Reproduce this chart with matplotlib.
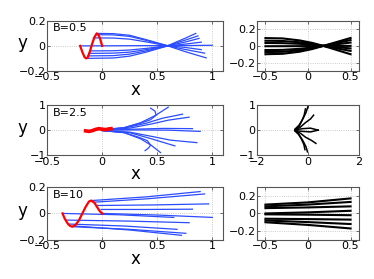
import numpy as np
import matplotlib.pyplot as plt

# ---- panel data ----
labels = ['B=0.5', 'B=2.5', 'B=10']

# B=0.5, left: red wave and blue filaments
red1_x = [-0.20, -0.18, -0.16, -0.145, -0.13, -0.11, -0.09, -0.07, -0.05, -0.035, -0.02, -0.01, 0.0]
red1_y = [0.0, -0.05, -0.09, -0.10, -0.09, -0.04, 0.02, 0.07, 0.10, 0.09, 0.06, 0.03, 0.0]
blue1 = [
    ([-0.05, 0.10, 0.25, 0.40, 0.58, 0.75, 0.945], [0.100, 0.098, 0.085, 0.050, 0.005, -0.045, -0.096]),
    ([-0.06, 0.10, 0.25, 0.40, 0.58, 0.75, 0.93], [0.090, 0.088, 0.076, 0.044, 0.004, -0.028, -0.058]),
    ([-0.08, 0.10, 0.25, 0.40, 0.58, 0.75, 0.90], [0.064, 0.063, 0.054, 0.032, 0.003, -0.012, -0.030]),
    ([-0.20, 0.10, 0.40, 0.58, 0.80, 1.00], [0.000, 0.001, 0.002, 0.002, 0.003, 0.005]),
    ([-0.11, 0.10, 0.25, 0.40, 0.58, 0.75, 0.90], [-0.040, -0.039, -0.033, -0.020, -0.001, 0.014, 0.030]),
    ([-0.12, 0.10, 0.25, 0.40, 0.58, 0.75, 0.88], [-0.060, -0.058, -0.050, -0.030, -0.002, 0.030, 0.060]),
    ([-0.13, 0.10, 0.25, 0.40, 0.58, 0.75, 0.87], [-0.080, -0.078, -0.066, -0.040, -0.003, 0.045, 0.080]),
    ([-0.145, 0.10, 0.25, 0.40, 0.58, 0.75, 0.85], [-0.100, -0.097, -0.082, -0.050, -0.004, 0.060, 0.100]),
]

# B=2.5, left
red2_x = [-0.15, -0.12, -0.09, -0.06, -0.03, 0.0, 0.03, 0.06, 0.08]
red2_y = [-0.03, -0.05, -0.02, 0.03, 0.06, 0.04, 0.02, 0.05, 0.06]
blue2 = [
    ([0.00, 0.20, 0.35, 0.48, 0.60], [0.02, 0.10, 0.30, 0.58, 0.92]),
    ([0.00, 0.20, 0.40, 0.55, 0.73], [0.02, 0.08, 0.28, 0.48, 0.64]),
    ([0.00, 0.25, 0.45, 0.60, 0.79], [0.01, 0.08, 0.25, 0.40, 0.52]),
    ([0.00, 0.30, 0.55, 0.82], [0.00, 0.04, 0.07, 0.06]),
    ([0.00, 0.30, 0.60, 0.89], [0.00, 0.01, 0.00, -0.05]),
    ([0.00, 0.25, 0.45, 0.62, 0.86], [-0.01, -0.08, -0.25, -0.40, -0.50]),
    ([0.00, 0.25, 0.45, 0.66], [-0.02, -0.10, -0.35, -0.63]),
    ([0.00, 0.20, 0.35, 0.45, 0.53], [-0.02, -0.10, -0.35, -0.62, -0.90]),
    ([0.00, 0.20, 0.35, 0.44, 0.49, 0.48, 0.44], [0.01, 0.10, 0.28, 0.42, 0.60, 0.76, 0.88]),
    ([0.00, 0.20, 0.33, 0.41, 0.44, 0.42, 0.39], [-0.01, -0.10, -0.28, -0.42, -0.60, -0.72, -0.82]),
]

# B=10, left
red3_x = [-0.36, -0.34, -0.31, -0.29, -0.27, -0.24, -0.21, -0.18, -0.15, -0.12, -0.10, -0.07, -0.04, -0.02, 0.0]
red3_y = [0.0, -0.04, -0.08, -0.095, -0.10, -0.085, -0.05, 0.0, 0.05, 0.09, 0.097, 0.08, 0.04, 0.015, 0.0]
blue3 = [
    ([-0.10, 0.40, 0.89], [0.097, 0.125, 0.165]),
    ([-0.07, 0.40, 0.93], [0.085, 0.110, 0.147]),
    ([-0.04, 0.45, 0.967], [0.060, 0.064, 0.072]),
    ([-0.01, 0.40, 0.82], [0.030, 0.030, 0.032]),
    ([-0.36, 0.15, 0.65], [0.000, -0.010, -0.030]),
    ([0.00, 0.50, 1.00], [0.000, -0.012, -0.030]),
    ([-0.33, 0.25, 0.79], [-0.050, -0.058, -0.070]),
    ([-0.30, 0.20, 0.68], [-0.080, -0.095, -0.120]),
    ([-0.27, 0.25, 0.76], [-0.100, -0.120, -0.150]),
    ([-0.25, 0.25, 0.72], [-0.095, -0.125, -0.165]),
]

# right column, black filaments
black1 = [
    ([-0.50, -0.30, -0.10, 0.05, 0.18, 0.50], [0.094, 0.090, 0.066, 0.036, 0.0, -0.100]),
    ([-0.50, -0.30, -0.10, 0.05, 0.18, 0.50], [0.062, 0.059, 0.044, 0.024, 0.0, -0.060]),
    ([-0.50, -0.30, -0.10, 0.05, 0.18, 0.50], [0.035, 0.033, 0.025, 0.013, 0.0, -0.030]),
    ([-0.50, -0.10, 0.18, 0.50], [-0.004, -0.003, 0.0, 0.000]),
    ([-0.50, -0.30, -0.10, 0.05, 0.18, 0.50], [-0.050, -0.048, -0.035, -0.019, 0.0, 0.040]),
    ([-0.50, -0.30, -0.10, 0.05, 0.18, 0.50], [-0.074, -0.071, -0.052, -0.028, 0.0, 0.070]),
    ([-0.50, -0.30, -0.10, 0.05, 0.18, 0.50], [-0.100, -0.095, -0.070, -0.038, 0.0, 0.095]),
]
black2 = [
    ([-0.50, -0.35, -0.20, -0.08, 0.00], [0.05, 0.20, 0.45, 0.70, 0.95]),
    ([-0.50, -0.35, -0.25, -0.15, -0.10], [0.03, 0.15, 0.35, 0.60, 0.85]),
    ([-0.50, -0.30, -0.10, 0.10, 0.22], [0.02, 0.12, 0.30, 0.45, 0.60]),
    ([-0.50, -0.20, 0.10, 0.40], [0.02, 0.06, 0.08, 0.00]),
    ([-0.50, -0.20, 0.10, 0.40], [-0.02, -0.05, -0.07, 0.00]),
    ([-0.50, -0.30, -0.10, 0.15, 0.31], [-0.02, -0.12, -0.28, -0.42, -0.53]),
    ([-0.50, -0.35, -0.20, -0.08, -0.02], [-0.04, -0.18, -0.42, -0.66, -0.87]),
    ([-0.50, -0.38, -0.26, -0.16, -0.12], [-0.03, -0.15, -0.35, -0.58, -0.78]),
]
black3 = [
    ([-0.50, 0.00, 0.50], [0.100, 0.125, 0.170]),
    ([-0.50, 0.00, 0.50], [0.080, 0.100, 0.130]),
    ([-0.50, 0.00, 0.50], [0.060, 0.068, 0.080]),
    ([-0.50, 0.00, 0.50], [0.000, 0.012, 0.030]),
    ([-0.50, 0.00, 0.50], [-0.010, -0.014, -0.020]),
    ([-0.50, 0.00, 0.50], [-0.060, -0.064, -0.070]),
    ([-0.50, 0.00, 0.50], [-0.080, -0.098, -0.120]),
    ([-0.50, 0.00, 0.50], [-0.100, -0.130, -0.170]),
]

left_data = [(red1_x, red1_y, blue1), (red2_x, red2_y, blue2), (red3_x, red3_y, blue3)]
right_data = [black1, black2, black3]
left_ylim = [(-0.2, 0.2), (-1, 1), (-0.2, 0.2)]
left_yticks = [[-0.2, 0, 0.2], [-1, 0, 1], [-0.2, 0, 0.2]]
right_xlim = [(-0.6, 0.6), (-2, 2), (-0.6, 0.6)]
right_xticks = [[-0.5, 0, 0.5], [-2, 0, 2], [-0.5, 0, 0.5]]
right_ylim = [(-0.3, 0.3), (-1, 1), (-0.3, 0.3)]
right_yticks = [[-0.2, 0, 0.2], [-1, 0, 1], [-0.2, 0, 0.2]]
black_lw = [1.5, 1.1, 1.5]

def fmt(v):
    s = ('%g' % v)
    return s.replace('-', '\u2212')

def style(ax):
    for sp in ax.spines.values():
        sp.set_color('#555555')
        sp.set_linewidth(0.8)
    ax.tick_params(direction='in', length=2, width=0.6, color='#555555',
                   labelsize=8, pad=1, top=True, right=True)
    ax.grid(True, linestyle=':', color='#bbbbbb', linewidth=0.6)
    ax.set_axisbelow(True)

fig = plt.figure(figsize=(3.74, 2.79), dpi=100)
bottoms = [0.746, 0.444, 0.140]
heights = [0.179, 0.179, 0.19]

for i in range(3):
    rx, ry, blues = left_data[i]
    ax = fig.add_axes([0.126, bottoms[i], 0.471, heights[i]])
    style(ax)
    for bx, by in blues:
        ax.plot(bx, by, color='#2b4cff', linewidth=0.9)
    ax.plot(rx, ry, color='red', linewidth=1.6 if i != 1 else 2.6, zorder=5)
    ax.set_xlim(-0.5, 1.1)
    ax.set_ylim(*left_ylim[i])
    ax.set_xticks([-0.5, 0, 0.5, 1])
    ax.set_xticklabels([fmt(v) for v in [-0.5, 0, 0.5, 1]])
    ax.set_yticks(left_yticks[i])
    ax.set_yticklabels([fmt(v) for v in left_yticks[i]])
    ax.set_xlabel('x', fontsize=12, labelpad=-1)
    ax.set_ylabel('y', fontsize=12, rotation=0, va='center', ha='center')
    ax.yaxis.set_label_coords(-0.14, 0.55)
    ax.text(0.03, 0.85, labels[i], transform=ax.transAxes, fontsize=8, va='center')

    ax2 = fig.add_axes([0.687, bottoms[i], 0.273, heights[i]])
    style(ax2)
    for bx, by in right_data[i]:
        ax2.plot(bx, by, color='black', linewidth=black_lw[i])
    ax2.set_xlim(*right_xlim[i])
    ax2.set_ylim(*right_ylim[i])
    ax2.set_xticks(right_xticks[i])
    ax2.set_xticklabels([fmt(v) for v in right_xticks[i]])
    ax2.set_yticks(right_yticks[i])
    ax2.set_yticklabels([fmt(v) for v in right_yticks[i]])

fig.savefig('out.png', dpi=100)
